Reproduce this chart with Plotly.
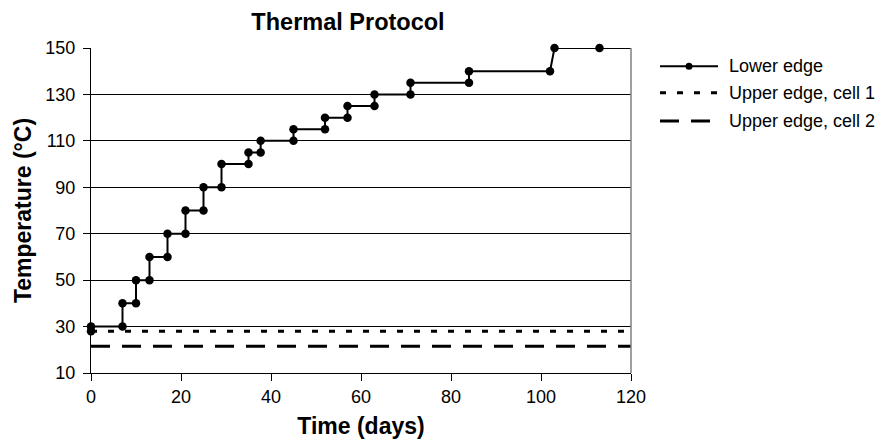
import plotly.graph_objects as go

# ---- data ----
time_days = [0, 0, 7, 7, 10, 10, 13, 13, 17, 17, 21, 21, 25, 25, 29, 29, 35, 35,
             37.7, 37.7, 45, 45, 52, 52, 57, 57, 63, 63, 71, 71, 84, 84, 102, 103, 113, 120]
lower_edge = [28, 30, 30, 40, 40, 50, 50, 60, 60, 70, 70, 80, 80, 90, 90, 100, 100, 105,
              105, 110, 110, 115, 115, 120, 120, 125, 125, 130, 130, 135, 135, 140, 140, 150, 150, 150]
marker_shown = [True] * (len(time_days) - 1) + [False]

cell_time = [0, 120]
upper_cell1 = [28, 28]
upper_cell2 = [21.5, 21.5]

y_ticks = [10, 30, 50, 70, 90, 110, 130, 150]
x_ticks = [0, 20, 40, 60, 80, 100, 120]

legend_names = ["Lower edge", "Upper edge, cell 1", "Upper edge, cell 2"]

FONT = "Arial, Liberation Sans, sans-serif"
DOT = "6px,11px"
DASH = "19px,12px"

fig = go.Figure()
fig.add_trace(go.Scatter(
    x=cell_time, y=upper_cell2, mode="lines", name=legend_names[2],
    line=dict(color="black", width=3, dash=DASH), showlegend=False, cliponaxis=False))
fig.add_trace(go.Scatter(
    x=cell_time, y=upper_cell1, mode="lines", name=legend_names[1],
    line=dict(color="black", width=3, dash=DOT), showlegend=False, cliponaxis=False))
fig.add_trace(go.Scatter(
    x=time_days, y=lower_edge, mode="lines+markers", name=legend_names[0],
    line=dict(color="black", width=2),
    marker=dict(color="black", opacity=1, line=dict(width=0, color="black"),
                size=[8.5 if m else 0 for m in marker_shown]),
    showlegend=False, cliponaxis=False))

L, R, T, B = 91, 246, 47.5, 66
W, H = 877, 439

fig.update_layout(
    width=W, height=H, autosize=False,
    margin=dict(l=L, r=R, t=T, b=B),
    paper_bgcolor="white", plot_bgcolor="white",
    font=dict(family=FONT, size=18, color="black"),
    title=dict(text="Thermal Protocol", x=348 / W, xanchor="center",
               y=1 - 21.7 / H, yanchor="middle",
               font=dict(family=FONT, size=23.5, weight="bold", color="black")),
    xaxis=dict(range=[0, 120], tickvals=x_ticks, ticks="outside", ticklen=7,
               tickcolor="black", showline=True, linecolor="black", linewidth=1,
               showgrid=False, zeroline=False, automargin=False,
               title=dict(text="Time (days)", standoff=13,
                          font=dict(family=FONT, size=23, weight="bold"))),
    yaxis=dict(range=[10, 150], tickvals=y_ticks, ticks="outside", ticklen=7,
               tickcolor="black", showline=True, linecolor="black", linewidth=1,
               showgrid=True, gridcolor="black", gridwidth=1, zeroline=False,
               ticklabelstandoff=4, automargin=False,
               title=dict(text="Temperature (°C)", standoff=7,
                          font=dict(family=FONT, size=23, weight="bold"))),
)

# plot-area right border (grey)
fig.add_shape(type="line", xref="paper", yref="paper", x0=1, x1=1, y0=0, y1=1,
              line=dict(color="#808080", width=1.5))

# manual legend (longer samples like the reference)
pw = W - L - R
ph = H - T - B
def px_x(p):
    return (p - L) / pw
def px_y(p):
    return (H - B - p) / ph

rows = [65.7, 92.3, 120.7]
styles = [("solid", 2), (DOT, 3), (DASH, 3)]
for name, ry, (dash, w) in zip(legend_names, rows, styles):
    fig.add_shape(type="line", xref="paper", yref="paper",
                  x0=px_x(660), x1=px_x(718), y0=px_y(ry), y1=px_y(ry),
                  line=dict(color="black", width=w, dash=dash))
    fig.add_annotation(xref="paper", yref="paper", x=px_x(727), y=px_y(ry),
                       xanchor="left", yanchor="middle", text=name, showarrow=False,
                       font=dict(family=FONT, size=18, color="black"))
fig.add_shape(type="circle", xref="paper", yref="paper",
              xsizemode="pixel", ysizemode="pixel",
              xanchor=px_x(689), yanchor=px_y(rows[0]),
              x0=-3.5, x1=3.5, y0=-3.5, y1=3.5,
              fillcolor="black", line=dict(color="black", width=0))

fig.write_html("out.html")
